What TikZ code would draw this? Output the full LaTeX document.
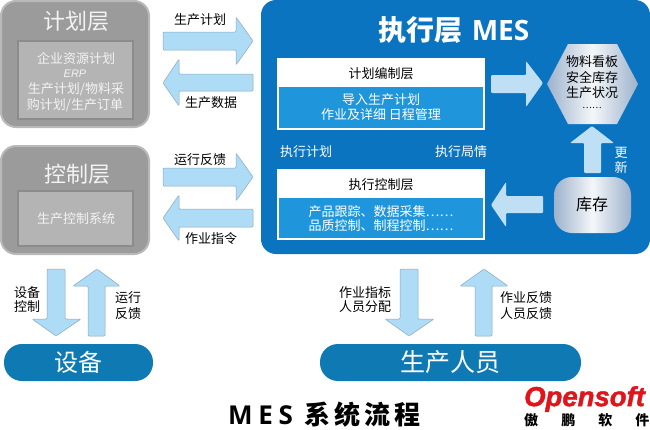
\documentclass[tikz,border=0pt]{standalone}
\usepackage{fontspec}
\setmainfont{Noto Sans CJK SC}
\newfontfamily\latinb{Open Sans}
\newfontfamily\erpfont{Liberation Sans}
\newfontfamily\logofont[FakeBold=1.5]{Liberation Sans}
\usetikzlibrary{shapes.geometric,shadings}
\definecolor{panelgray}{HTML}{9B9B9B}
\definecolor{panelrim}{HTML}{B9B9B9}
\definecolor{innergray}{HTML}{B4B4B4}
\definecolor{innerrim}{HTML}{8C8C8C}
\definecolor{softtext}{HTML}{F3F3F3}
\definecolor{mesblue}{HTML}{0A74C0}
\definecolor{subblue}{HTML}{1F96DC}
\definecolor{pillblue}{HTML}{0F79B3}
\definecolor{arrowblue}{HTML}{AEDBF5}
\definecolor{arrowrim}{HTML}{8AA9BC}
\definecolor{innerarrow}{HTML}{BFDFF5}
\definecolor{steelA}{HTML}{F4F7FA}
\definecolor{steelB}{HTML}{9DB2CC}
\definecolor{logored}{HTML}{E1141C}
\newcommand{\tsize}[1]{\fontsize{#1}{#1}\selectfont}
\tikzset{
  x=1pt,y=-1pt,
  lbl/.style={inner sep=0pt,align=center,font=\tsize{13}},
  panel/.style={draw=panelrim,line width=2pt,fill=panelgray,rounded corners=15pt},
  innerpanel/.style={draw=innerrim,line width=1.5pt,fill=innergray},
  softlbl/.style={lbl,text=softtext},
  bigsoft/.style={inner sep=0pt,text=softtext,font=\tsize{22}},
  blockarrow/.style={fill=arrowblue,draw=arrowrim,line width=.5pt,rounded corners=1pt},
  meblock/.style={fill=innerarrow,rounded corners=1pt},
  whitebox/.style={fill=white},
  bluebox/.style={fill=subblue},
}
\begin{document}
\begin{tikzpicture}
\useasboundingbox (0,0) rectangle (650,429);
\fill[white] (0,0) rectangle (650,429);
% left panels
\draw[panel] (1,1) rectangle (149,127);
\draw[innerpanel] (18,41) rectangle (133,119);
\node[bigsoft] (plan) at (76,21) {计划层};
\node[softlbl] (erp1) at (76,59) {企业资源计划};
\node[softlbl,font=\erpfont\itshape\tsize{11}] (erp2) at (75,74) {ERP};
\node[softlbl] (erp3) at (76,89) {生产计划/物料采};
\node[softlbl] (erp4) at (75,105) {购计划/生产订单};
\draw[panel] (1,146) rectangle (149,254);
\draw[innerpanel] (18,191) rectangle (133,246);
\node[bigsoft] (ctrl) at (77,174) {控制层};
\node[softlbl] (ctrl1) at (76,219) {生产控制系统};
% left-middle arrows
\draw[blockarrow] (163,32) -- (236,32) -- (236,17) -- (253,41) -- (236,65) -- (236,50) -- (163,50) -- cycle;
\draw[blockarrow] (253,74) -- (179,74) -- (179,59) -- (163,83) -- (179,106) -- (179,91) -- (253,91) -- cycle;
\draw[blockarrow] (163,168) -- (236,168) -- (236,153) -- (253,177) -- (236,201) -- (236,186) -- (163,186) -- cycle;
\draw[blockarrow] (253,209) -- (179,209) -- (179,195) -- (163,218) -- (179,241) -- (179,227) -- (253,227) -- cycle;
\node[lbl] (a1) at (200,20) {生产计划};
\node[lbl] (a2) at (211,103) {生产数据};
\node[lbl] (a3) at (200,160) {运行反馈};
\node[lbl] (a4) at (211,239) {作业指令};
% MES panel
\fill[mesblue,rounded corners=15pt] (261,0) rectangle (650,254);
\node[inner sep=0pt,text=white,font=\bfseries\tsize{28}] (mes) at (454,30) {执行层\hspace{9pt}{\latinb\bfseries MES}};
\fill[whitebox] (277,58) rectangle (485,130);
\fill[bluebox] (279,87) rectangle (483,128);
\node[lbl] (m1) at (381,74) {计划编制层};
\node[lbl,text=white] (m2) at (381,100) {导入生产计划};
\node[lbl,text=white] (m3) at (381,115) {作业及详细 日程管理};
\fill[whitebox] (277,169) rectangle (485,240);
\fill[bluebox] (279,198) rectangle (483,238);
\node[lbl] (m4) at (381,185) {执行控制层};
\node[lbl,text=white] (m5) at (381,212) {产品跟踪、数据采集……};
\node[lbl,text=white] (m6) at (381,226) {品质控制、制程控制……};
\node[lbl,text=white] (m7) at (306,152) {执行计划};
\node[lbl,text=white] (m8) at (461,152) {执行局情};
% hexagon and store
\shade[left color=steelB,right color=steelB,middle color=steelA] (547,84) -- (568,44) -- (617,44) -- (638,84) -- (617,124) -- (568,124) -- cycle;
\node[lbl] (h1) at (592,62) {物料看板};
\node[lbl] (h2) at (592,78) {安全库存};
\node[lbl] (h3) at (592,93) {生产状况};
\node[lbl,font=\tsize{9}] (h4) at (592,108) {……};
\shade[left color=steelB,right color=steelB,middle color=steelA,rounded corners=18pt] (554,177) rectangle (631,233);
\node[lbl,font=\tsize{16}] (store) at (592,204) {库存};
% MES internal arrows
\fill[meblock] (491,75) -- (526,75) -- (526,61) -- (543,83) -- (526,107) -- (526,93) -- (491,93) -- cycle;
\fill[meblock] (584,173) -- (584,143) -- (570,143) -- (592,126) -- (614,143) -- (601,143) -- (601,173) -- cycle;
\fill[meblock] (543,196) -- (506,196) -- (506,182) -- (491,205) -- (506,227) -- (506,213) -- (543,213) -- cycle;
\node[lbl,text=white] (u1) at (621,153) {更};
\node[lbl,text=white] (u2) at (621,167) {新};
% bottom arrows
\draw[blockarrow] (47,269) -- (65,269) -- (65,319) -- (81,319) -- (56,336) -- (32,319) -- (47,319) -- cycle;
\draw[blockarrow] (88,336) -- (105,336) -- (105,286) -- (120,286) -- (97,269) -- (73,286) -- (88,286) -- cycle;
\draw[blockarrow] (400,269) -- (418,269) -- (418,319) -- (434,319) -- (409,336) -- (385,319) -- (400,319) -- cycle;
\draw[blockarrow] (475,336) -- (492,336) -- (492,286) -- (508,286) -- (484,269) -- (460,286) -- (475,286) -- cycle;
\node[lbl] (b1) at (27,293) {设备};
\node[lbl] (b2) at (27,307) {控制};
\node[lbl] (b3) at (128,298) {运行};
\node[lbl] (b4) at (128,314) {反馈};
\node[lbl] (b5) at (365,293) {作业指标};
\node[lbl] (b6) at (365,307) {人员分配};
\node[lbl] (b7) at (526,298) {作业反馈};
\node[lbl] (b8) at (526,314) {人员反馈};
% pills
\fill[pillblue,rounded corners=18pt] (4,344) rectangle (153,381);
\fill[pillblue,rounded corners=18pt] (320,344) rectangle (581,381);
\node[inner sep=0pt,text=white,font=\tsize{24}] (dev) at (78.5,362) {设备};
\node[inner sep=0pt,text=white,font=\tsize{25}] (staff) at (450,362) {生产人员};
% title and logo
\node[inner sep=0pt,anchor=west,text height=20pt,text depth=4pt,font=\bfseries\tsize{26}\addfontfeature{LetterSpace=16}] (title) at (228,416) {{\latinb\bfseries\tsize{26}\addfontfeature{LetterSpace=22}MES}\hspace{11pt}系统流程};
\node[inner sep=0pt,anchor=west,text=logored,font=\logofont\bfseries\itshape\tsize{27.5}] (logo) at (524,399) {Opensoft};
\node[inner sep=0pt,anchor=west,text height=11pt,text depth=2pt,font=\bfseries\tsize{14}\addfontfeature{LetterSpace=165}] (logocn) at (524,421) {傲鹏软件};
\end{tikzpicture}
\end{document}
